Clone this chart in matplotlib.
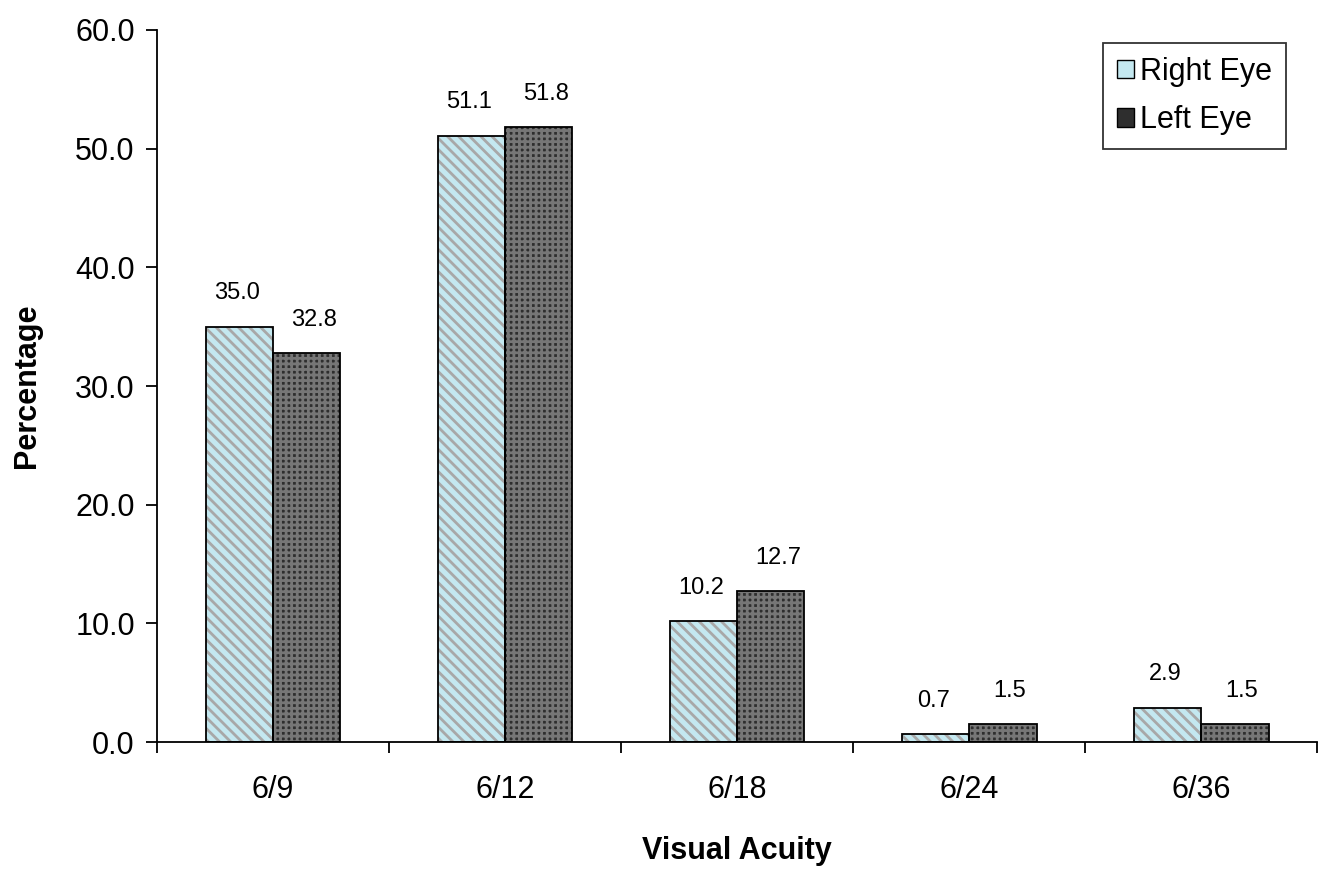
import matplotlib.pyplot as plt
import numpy as np
from matplotlib.patches import Patch

plt.rcParams['font.family'] = ['Liberation Sans', 'DejaVu Sans']
plt.rcParams['hatch.linewidth'] = 2.0

categories = ["6/9", "6/12", "6/18", "6/24", "6/36"]
right_eye = [35.0, 51.1, 10.2, 0.7, 2.9]
left_eye = [32.8, 51.8, 12.7, 1.5, 1.5]

fig = plt.figure(figsize=(13.23, 8.72), dpi=100)
ax = fig.add_axes([0.1187, 0.149, 0.877, 0.8166])

x = np.arange(len(categories))
w = 0.29

# right eye: light blue with grey diagonal stripes
ax.bar(x - w / 2, right_eye, w, color="#c4e8f0", edgecolor="#a8a8a8",
       hatch="\\\\\\", linewidth=0, zorder=2)
ax.bar(x - w / 2, right_eye, w, fill=False, edgecolor="black", linewidth=1.3, zorder=3)
# left eye: dark grey with dotted texture
ax.bar(x + w / 2, left_eye, w, color="#2e2e2e", edgecolor="#767676",
       hatch="+++", linewidth=0, zorder=2)
ax.bar(x + w / 2, left_eye, w, fill=False, edgecolor="black", linewidth=1.3, zorder=3)

for xi, v in zip(x - w / 2, right_eye):
    ax.text(xi - 0.01, v + 2.8, f"{v:.1f}", ha="center", va="center", fontsize=17)
for xi, v in zip(x + w / 2, left_eye):
    ax.text(xi + 0.03, v + 2.8, f"{v:.1f}", ha="center", va="center", fontsize=17)

ax.set_xlim(-0.5, len(categories) - 0.5)
ax.set_ylim(0, 60)
ax.set_yticks(np.arange(0, 61, 10))
ax.set_yticklabels([f"{t:.1f}" for t in np.arange(0, 61, 10)], fontsize=22)
ax.set_xticks(x)
ax.set_xticklabels(categories, fontsize=22)
ax.set_xticks(np.arange(-0.5, len(categories), 1), minor=True)
ax.tick_params(axis="x", which="major", length=0, pad=24)
ax.tick_params(axis="x", which="minor", length=8, width=1.3, direction="out")
ax.tick_params(axis="y", length=8, width=1.3, direction="out", pad=8)

for s in ["top", "right"]:
    ax.spines[s].set_visible(False)
for s in ["left", "bottom"]:
    ax.spines[s].set_linewidth(1.3)

ax.set_xlabel("Visual Acuity", fontsize=22, fontweight="bold", labelpad=22)
ax.set_ylabel("Percentage", fontsize=22, fontweight="bold", labelpad=24)

handles = [
    Patch(facecolor="#c4e8f0", edgecolor="black", label="Right Eye"),
    Patch(facecolor="#2e2e2e", edgecolor="black", label="Left Eye"),
]
leg = ax.legend(handles=handles, loc="upper right", bbox_to_anchor=(0.978, 0.99),
                fontsize=22, frameon=True, fancybox=False, edgecolor="black",
                handlelength=0.55, handleheight=0.55, handletextpad=0.2,
                borderpad=0.45, labelspacing=0.6, borderaxespad=0.2)
leg.get_frame().set_linewidth(1.3)

fig.savefig("out.png", dpi=100)
